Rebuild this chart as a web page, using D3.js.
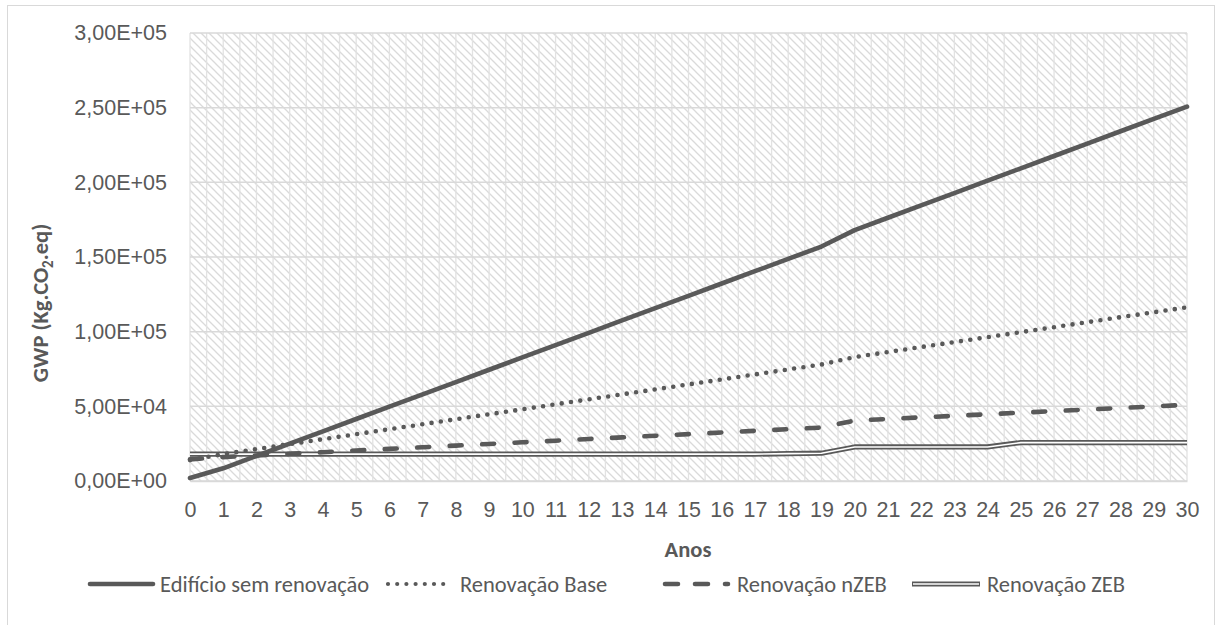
<!DOCTYPE html>
<html>
<head>
<meta charset="utf-8">
<script src="https://cdn.jsdelivr.net/npm/d3@7"></script>
<style>
  html, body { margin: 0; padding: 0; background: #fff; }
  svg { display: block; font-family: Carlito, Lato, "Open Sans", sans-serif; }
</style>
</head>
<body>
<svg id="chart" width="1217" height="625"></svg>
<script>
// Years on the horizontal axis
const anos = d3.range(0, 31);

// Cumulative GWP (kg CO2 eq) per scenario
const semRenovacao = [
  2000, 8500, 16750, 25000, 33250, 41500, 49750, 58000, 66250, 74500,
  82750, 91000, 99250, 107500, 115750, 124000, 132250, 140500, 148750, 157000,
  168000, 176300, 184550, 192800, 201100, 209350, 217650, 225900, 234200, 242450,
  250700
];
const renovacaoBase = [
  14000, 18000, 21350, 24700, 28000, 31350, 34700, 38000, 41350, 44700,
  48000, 51350, 54700, 58000, 61350, 64700, 68000, 71350, 74700, 78000,
  83000, 86350, 89700, 93000, 96350, 99700, 103000, 106350, 109700, 113000,
  116300
];
const renovacaoNZEB = [
  14500, 16000, 17100, 18200, 19300, 20400, 21500, 22600, 23700, 24800,
  25900, 27000, 28100, 29200, 30300, 31400, 32500, 33600, 34700, 35800,
  40500, 41550, 42600, 43650, 44700, 45750, 46800, 47850, 48900, 49950,
  51000
];
const renovacaoZEB = [
  18000, 18000, 18000, 18000, 18000, 18000, 18000, 18000, 18000, 18000,
  18000, 18000, 18000, 18000, 18000, 18000, 18000, 18000, 18300, 18600,
  22800, 22800, 22800, 22800, 22800, 25700, 25700, 25700, 25700, 25700,
  25700
];

const yTicks = [0, 50000, 100000, 150000, 200000, 250000, 300000];
const nomes = ["Edifício sem renovação", "Renovação Base", "Renovação nZEB", "Renovação ZEB"];

const svg = d3.select("#chart");
const plot = { left: 190, right: 1187, top: 33, bottom: 481 };
const ink = "#595959";
const light = "#d9d9d9";
const tickSize = "21.5px";
const textSize = "22.5px";

// Outer chart frame
svg.append("rect")
  .attr("x", 7.5).attr("y", 5.5)
  .attr("width", 1207).attr("height", 700)
  .attr("fill", "#fff").attr("stroke", "#d9d9d9").attr("stroke-width", 1);

const x = d3.scaleLinear().domain([0, 30]).range([plot.left, plot.right]);
const y = d3.scaleLinear().domain([0, 300000]).range([plot.bottom, plot.top]);

// Diagonal hatch fill for the plot area
const defs = svg.append("defs");
const pat = defs.append("pattern")
  .attr("id", "hatch")
  .attr("patternUnits", "userSpaceOnUse")
  .attr("width", 8).attr("height", 8);
pat.append("rect").attr("width", 8).attr("height", 8).attr("fill", "#fff");
pat.append("path")
  .attr("d", "M-2,-2L10,10M-2,6L2,10M6,-2L10,2")
  .attr("stroke", "#dadada").attr("stroke-width", 1.3).attr("fill", "none");

svg.append("rect")
  .attr("x", plot.left).attr("y", plot.top)
  .attr("width", plot.right - plot.left).attr("height", plot.bottom - plot.top)
  .attr("fill", "url(#hatch)");

// Vertical gridlines at every half year
const g = svg.append("g");
g.selectAll("line.v")
  .data(d3.range(0, 30.01, 0.5))
  .join("line")
  .attr("class", "v")
  .attr("x1", d => x(d)).attr("x2", d => x(d))
  .attr("y1", plot.top).attr("y2", plot.bottom)
  .attr("stroke", "#e2e2e2").attr("stroke-width", 1.3);

// Horizontal gridlines at the value ticks
g.selectAll("line.h")
  .data(yTicks)
  .join("line")
  .attr("class", "h")
  .attr("x1", plot.left).attr("x2", plot.right)
  .attr("y1", d => y(d)).attr("y2", d => y(d))
  .attr("stroke", light).attr("stroke-width", 1.5);

// Y axis labels in scientific notation with comma decimals
const fmt = v => {
  if (v === 0) return "0,00E+00";
  const e = Math.floor(Math.log10(v));
  const m = (v / Math.pow(10, e)).toFixed(2).replace(".", ",");
  return m + "E+" + String(e).padStart(2, "0");
};
const yAxis = d3.axisLeft(y).tickValues(yTicks).tickFormat(fmt).tickSize(0).tickPadding(23);
const yg = svg.append("g").attr("transform", `translate(${plot.left},0)`).call(yAxis);
yg.select(".domain").remove();
yg.selectAll("text").attr("fill", ink).style("font-size", tickSize);

// X axis labels
const xAxis = d3.axisBottom(x).tickValues(anos).tickFormat(d3.format("d")).tickSize(0).tickPadding(21);
const xg = svg.append("g").attr("transform", `translate(0,${plot.bottom})`).call(xAxis);
xg.select(".domain").attr("stroke", light).attr("stroke-width", 1.5);
xg.selectAll("text").attr("fill", ink).style("font-size", tickSize);

// Axis titles
svg.append("text")
  .attr("x", 688).attr("y", 557)
  .attr("text-anchor", "middle").attr("fill", ink)
  .style("font-size", textSize).style("font-weight", "bold")
  .text("Anos");

const yt = svg.append("text")
  .attr("transform", "translate(48,303) rotate(-90)")
  .attr("text-anchor", "middle").attr("fill", ink)
  .style("font-size", textSize).style("font-weight", "bold");
yt.append("tspan").text("GWP (Kg.CO");
yt.append("tspan").attr("dy", 5).style("font-size", "15px").text("2");
yt.append("tspan").attr("dy", -5).text(".eq)");

// Series lines
const line = d3.line().x((d, i) => x(anos[i])).y(d => y(d));
const lines = svg.append("g").attr("fill", "none").attr("stroke-linejoin", "round");

lines.append("path").datum(renovacaoZEB).attr("d", line)
  .attr("stroke", ink).attr("stroke-width", 5.2);
lines.append("path").datum(renovacaoZEB).attr("d", line)
  .attr("stroke", "#fff").attr("stroke-width", 1.6);

lines.append("path").datum(renovacaoNZEB).attr("d", line)
  .attr("stroke", ink).attr("stroke-width", 4.6)
  .attr("stroke-linecap", "round").attr("stroke-dasharray", "12,20.5");

lines.append("path").datum(renovacaoBase).attr("d", line)
  .attr("stroke", ink).attr("stroke-width", 4.6)
  .attr("stroke-linecap", "round").attr("stroke-dasharray", "0,9.4");

lines.append("path").datum(semRenovacao).attr("d", line)
  .attr("stroke", ink).attr("stroke-width", 4.6)
  .attr("stroke-linecap", "round");

// Legend
const ly = 584;
const leg = svg.append("g");
const legTxt = (tx, s) => leg.append("text")
  .attr("x", tx).attr("y", ly).attr("dy", "0.35em")
  .attr("fill", ink).style("font-size", textSize).text(s);

leg.append("line").attr("x1", 90).attr("x2", 153).attr("y1", ly).attr("y2", ly)
  .attr("stroke", ink).attr("stroke-width", 4.6).attr("stroke-linecap", "round");
legTxt(160, nomes[0]);

leg.append("line").attr("x1", 388).attr("x2", 444).attr("y1", ly).attr("y2", ly)
  .attr("stroke", ink).attr("stroke-width", 4.2).attr("stroke-linecap", "round")
  .attr("stroke-dasharray", "0,9.2");
legTxt(460, nomes[1]);

leg.append("line").attr("x1", 665).attr("x2", 728).attr("y1", ly).attr("y2", ly)
  .attr("stroke", ink).attr("stroke-width", 4.6).attr("stroke-linecap", "round")
  .attr("stroke-dasharray", "13,17");
legTxt(737, nomes[2]);

leg.append("line").attr("x1", 912).attr("x2", 980).attr("y1", ly).attr("y2", ly)
  .attr("stroke", ink).attr("stroke-width", 5.2);
leg.append("line").attr("x1", 913).attr("x2", 979).attr("y1", ly).attr("y2", ly)
  .attr("stroke", "#fff").attr("stroke-width", 1.6);
legTxt(987, nomes[3]);
</script>
</body>
</html>
